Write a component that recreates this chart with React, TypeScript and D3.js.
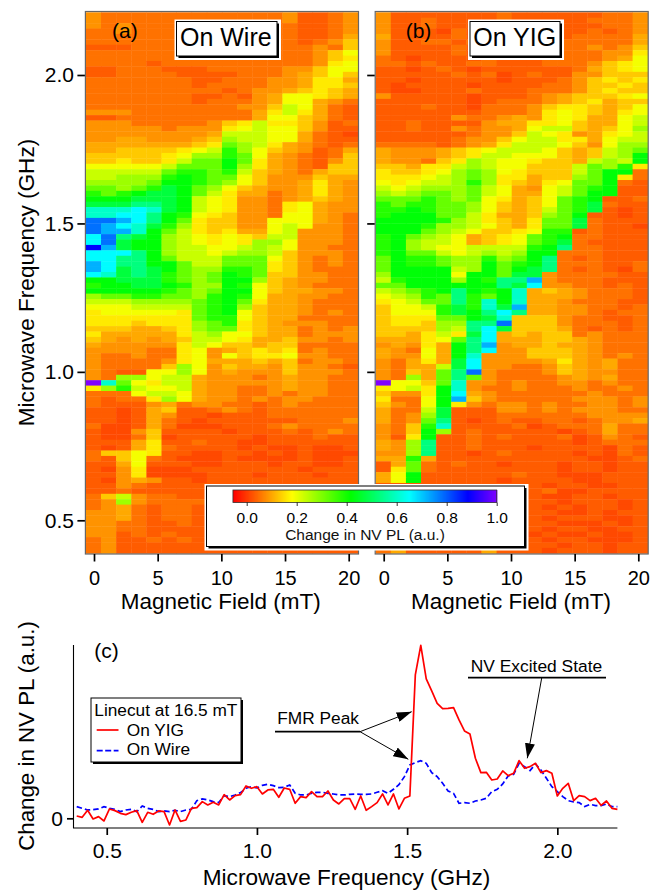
import React, { useEffect, useRef } from "react";
import * as d3 from "d3";

const FONT = "'Liberation Sans', Arial, sans-serif";

// one letter per heat map cell, looked up in levelValues
const levelKeys = "abcdefghijklmnopqrstu";
const levelValues = [0.012, 0.03, 0.05, 0.08, 0.1, 0.13, 0.16, 0.19, 0.23, 0.27, 0.32, 0.38, 0.42, 0.47, 0.53, 0.6, 0.65, 0.72, 0.78, 0.88, 1];

// rows run from 2.2 GHz (top) down to 0.4 GHz, columns from 0 to 20.2 mT
const onWireRows = [
  "dccccccccccccdbbcd", "dccccccccccccdbbcd", "dcdcccccccccccbbcd", "ccdcccccccccccbbcd", "ccccccccccccccbbce",
  "ccccccccccccccbcdf", "bbbccccccccccccdcf", "cccccccccccccccdfh", "cccccccccccccccdfg", "ccccbccccccccccdgh",
  "bbcccbbbcccccddfhh", "bbccccbbbbcccdefhf", "cccccccbbcccddegge", "cccccccbccccddeggf", "cccccccccbcddefgfe",
  "cccccccbbcbdehhgfe", "cccccccbcccdehhedc", "ccccccccccddfihecb", "dddccccccccegigecb", "bbcccccccccehhfecb",
  "dddcccccdfgiggfdbc", "dddddcdddghihhfdbb", "ddddddddeiiihhecba", "ddeedddefjiihhecbb", "eeeeeeefgkjigedcbc",
  "eeffffghiljhfedbce", "fffffghjjlkhedcbcf", "ffgffgikkmkgedcbdf", "hhhhhikkkmjgedcbff", "iiiiikllklifedceff",
  "iijjjlmlkkhfdddfee", "jjjjkmmlkjhfddeged", "kkjklnmkjhfeddeged", "lklmnnmkigeecdeged", "mmmnnnmihgddcdefed",
  "nnnoonmihgddcghedd", "pppqpnmihgddcghedd", "ppqqomlhgfddchhedc", "ssrqomkgffddhhhedc", "srqpnljgffddhihddc",
  "srrpmkigfgeehidddc", "qsonmjihghgfiidddc", "qsnmmjihghgjjhdddc", "trnmmjiihhijihddcc", "qqqomjiihijjifdddc",
  "qqoomkiiikkkhfdcdc", "rqoommkiikkkgfdcdc", "rqnonmkjjllkgfdccc", "qpnonlkjkmlkffddcc", "mmnnnlkjkmmjfeddcc",
  "lmmnnmljjmlhfedccc", "mmmmmlkjkmmhfeeddc", "jkkllkkjlmlheeddcc", "iiijjjjklmkgeedccc", "hhhiiiiklmjfeedccc",
  "ghhhhhgklmhfeedcdc", "gggggggkllhfeecccc", "gggfgggjklgfedddcc", "fffeefgjkkgfeecdcd", "geeeeegijhhfeecddd",
  "fededefiihgeefddcd", "edddddgihffeffcccc", "ddddccghdefgfgcdcc", "dccdccghdhfgghddcc", "dccccdgheeefefcddc",
  "dccccfjhdfeedfddcb", "dcbbhhjhdedddfdddc", "dcjjhiiedddcdeddcc", "upkhgiiedddddeddcc", "gjlihhieddccdeddcc",
  "ccchiiheddccdcddcc", "cbccgjheddcdcddccc", "cbbbdecddccbcdcccc", "bbabefbbcdcbcccccc", "bbabedbbabbbcccccc",
  "bbabecbabbbbbbcccd", "caabecaaabbbcdcccc", "baadfbbbbabbbcbcdc", "baacfabbbbbabbbcbb", "bbbegbbcbbaabbbbbb",
  "babegcbbbbabaabaab", "cffhgbbaabbababaaa", "cbfhcbaaabaaaabaab", "bbehbbbaabbbabbaab", "badgaaabbbbbbbabbb",
  "bbdgaaaabbbabbbabb", "badedbbabbbbbbbbbb", "bbdcbbbbbbbbbbbbbb", "bbcbbbbbbbbbbbbbbb", "cfidccbbbbbbbbbbbb",
  "cdjdccccbbbbbbbbbb", "cdecbccbbbbbbbbbbb", "ddecbccbcbbbbbbbbb", "ddecbccbbbbbbbbbbb", "ddccbbcbbbbbbbbbbb",
  "ddccbbbbbbbbbbbbbb", "ddbcbcbbbbbbbbbbbb", "cdbbcbcbbbbbbbbbbb", "cdbbbbbbbbbbbbbbbb", "cdbbbbbbbbbbbbbbbb",
];

const onYigRows = [
  "dbbbbbbbcbbbbbbccd", "dbbcbbbbcbbbbbcccd", "dbbcbbbbbbbcbbbccd", "dbbbacbbcbbbbbcbcd", "ebbbbcbbbbcbbcccce",
  "dbbccbcbbcbbccccce", "dbbbbcbbbcbbccdcdf", "dbbbbcbbcbcbcccddg", "cbabbbbcbbbccccdeh", "ccbcbbccbbbcccdfgh",
  "bbabcbabbbbbbcefgh", "bbbbbcbcabcbbddfff", "bbabbbbbabbbcdfgfg", "babbbbabbbbccdffgf", "baabbbcbbbcccdfgff",
  "dbbbbbabbbcdefffgh", "bbbbbbabcccdefgeff", "bbbcbbacccdfggfefh", "bbbbbbbcccdghgfegh", "bbbbbdccdedghgeehi",
  "bbcbbbbdeegghfeehi", "bbcbbdcddehiifefhj", "bbbbbbcddfihgdeghi", "bbbbbcddfhiiggehii", "ccccbcdegiiihfdhjj",
  "edddefghiiihfefijk", "edddefgiihhhfefijm", "eddcfgjihhgffeijim", "ffeggijihhfffikjlg", "gffghjkjhgfffikmmc",
  "ggghijkjggeffjkmgc", "hghiijljgfeghkkmcb", "ihijjjkihedhiklmbb", "jijkkjkiheehikmmbb", "kkklkjkhgefhklmbbc",
  "lkllkkjhfefhklncbb", "llmlkkjhfefiklnbab", "lmmmkkigeefjkmbbab", "mmmmljigfegkkncbbb", "mmmljjihfegkkncbba",
  "mmmkjihffghllbcbbb", "lmkjihefghklmccbbb", "lmjiihefghklncbbbb", "lmjihhiiiilmoccbbb", "lmkkihijijmmcccbbb",
  "kmllkjjljkmocbcbbb", "kmllkjjmklmocccbbc", "kmmmmijmkmnocbcbac", "jmmmmhmmknndccccbb", "ilmmmjmloordcccbbb",
  "kkmmmmmmonqddccbcb", "ijklmomlmpefedcccb", "hijlkolkmpeeedcccb", "ghikkolpmpeedcccbb", "fhhilnlpnreeddccbc",
  "fhhhlnmoqoeeddcbcc", "fgggkkmnpfffdccbbc", "fggfjjoosfffdcccbc", "ffffjioqnfffecbcbc", "ffegignqefeffcdccc",
  "eeeghkoqeeeffedccc", "dedgemordeefeedccc", "edchemoqddfffedccc", "eddhempdddfffedcdc", "dcegenqddddegedecc",
  "dceeinqddccdfedecc", "dcfekosdcccdfeddcc", "dcjekokdccccdedecc", "uhhfkpddcdccddcdcc", "ghigmpdccdcccdccdc",
  "fddgmqedccccccdccc", "gcchmrfdcccccdddcd", "fdchmgdcddcdccddcd", "eccinbbbddcdcdddcc", "ecdjnbbbccccccdddd",
  "ecdkobabcbbccbcdde", "dcflpbbbbcabcccecc", "dcfmjbcbbbbbabcecc", "dbgmbbcbcbbbcabdcb", "edjobbcbbbbbbabccc",
  "edjobbcbbbabbbbacb", "ddjobbabcbbbbabacb", "eelebbbbbbbbbbaabc", "bekcbcbbabbbabbabb", "bgkcbbbbbbbbabbabb",
  "ehmbbbbbbcbbaaabbb", "ehmbbbbbabbbbaabbb", "bbbbbbbbbbbabbaabb", "bbbbbbbbbbbcaabbbb", "bbbbbbbbbbbaabbabb",
  "bbbbbbbbbbbbabbbab", "bbbbbbbbbbbababbab", "bbbbbbbbbbbbaababb", "bbbbbbbbbbbabbbaab", "bbbbbbbbbbbbaaabab",
  "bbbbbbbbbbbabbaabb", "bbbbbbbbbbabaabaab", "bbbbbbbbbbbabbaaab", "bbbbbbbbbbbbabbabb", "cebbbbbebbbabbbabb",
];

// line cuts at 16.5 mT, in units of 1/519 of the On YIG peak
const onYigCut = [
  7, 3, 24, -2, 5, -8, 28, 23, 15, 11, 18, 23, -12, 18, 12, 22, 20, -20, 25, -9,
  -5, 30, 32, 50, 40, 48, 40, 71, 55, 68, 71, 97, 90, 95, 73, 85, 87, 63, 91, 87,
  45, 65, 62, 80, 65, 65, 82, 55, 43, 59, 59, 27, 67, 24, 35, 47, 73, 40, 73, 28,
  60, 67, 430, 519, 418, 382, 345, 329, 330, 332, 295, 262, 253, 180, 137, 138, 115, 118, 142, 128,
  135, 173, 150, 155, 165, 137, 143, 135, 67, 90, 105, 53, 68, 65, 53, 60, 39, 52, 30, 27,
];
const onWireCut = [
  35, 30, 25, 26, 28, 35, 30, 27, 20, 25, 27, 20, 37, 30, 27, 20, 22, 20, 24, 20,
  25, 27, 53, 58, 55, 50, 47, 68, 65, 70, 77, 90, 95, 91, 99, 102, 98, 92, 93, 100,
  75, 70, 70, 75, 78, 78, 75, 73, 70, 70, 72, 73, 72, 72, 73, 78, 83, 75, 87, 101,
  125, 160, 167, 173, 165, 137, 125, 105, 82, 75, 45, 47, 45, 52, 55, 60, 80, 87, 103, 127,
  132, 165, 155, 143, 163, 145, 120, 95, 80, 65, 53, 49, 47, 35, 42, 38, 38, 43, 35, 35,
];

const fieldTicks = [0, 5, 10, 15, 20];
const freqTicks = [0.5, 1.0, 1.5, 2.0];
const legendTicks = [0, 0.2, 0.4, 0.6, 0.8, 1.0];

const WIDTH = 664;
const HEIGHT = 891;

// hue runs linearly from red at the bottom of the bar to violet at 1.0
const hueScale = d3.scaleLinear().domain([-0.055, 1]).range([0, 270]);
const heatColor = (v: number) => d3.hsl(hueScale(v), 1, 0.5).formatHex();

type Sel = d3.Selection<any, unknown, null, undefined>;

const styleAxis = (g: Sel, size: number) => {
  g.select(".domain").remove();
  g.selectAll("line").attr("stroke", "#000").attr("stroke-width", 1.7);
  g.selectAll("text").attr("font-family", FONT).attr("font-size", size).attr("fill", "#000");
};

// white plate with a black frame that is heavier on the right and at the bottom
const drawPlate = (svg: Sel, x: number, y: number, w: number, h: number, pad = 2) => {
  svg.append("rect").attr("x", x - pad).attr("y", y - pad).attr("width", w + 2 * pad + 2).attr("height", h + 2 * pad + 2).attr("fill", "#fff");
  svg.append("rect").attr("x", x + 2).attr("y", y + 2).attr("width", w).attr("height", h).attr("fill", "#000");
  svg.append("rect").attr("x", x).attr("y", y).attr("width", w).attr("height", h).attr("fill", "#fff").attr("stroke", "#000").attr("stroke-width", 1);
};

const drawHeat = (svg: Sel, rows: string[], x0: number, x1: number, fieldZero: number, fieldTwenty: number, labelled: boolean) => {
  const col = d3.scaleBand<number>().domain(d3.range(18)).range([x0, x1]);
  const row = d3.scaleBand<number>().domain(d3.range(rows.length)).range([12.3, 553.3]);
  const fieldX = d3.scaleLinear().domain([0, 20]).range([fieldZero, fieldTwenty]);
  const freqY = d3.scaleLinear().domain([0.5, 2.0]).range([520.3, 75]);

  const cells = rows.flatMap((r, i) => r.split("").map((k, j) => ({ i, j, v: levelValues[levelKeys.indexOf(k)] })));
  svg.append("g").selectAll("rect").data(cells).enter().append("rect")
    .attr("x", (d) => col(d.j)!)
    .attr("y", (d) => row(d.i)!)
    .attr("width", col.bandwidth() + 0.4)
    .attr("height", row.bandwidth() + 0.4)
    .attr("fill", (d) => heatColor(d.v));

  svg.append("rect").attr("x", x0 - 0.5).attr("y", 11.5).attr("width", x1 - x0 + 1).attr("height", 542.5)
    .attr("fill", "none").attr("stroke", "#666").attr("stroke-width", 1.2);

  const xAxis = svg.append("g").attr("transform", "translate(0,554)")
    .call(d3.axisBottom(fieldX).tickValues(fieldTicks).tickSize(7.5).tickPadding(9).tickFormat(d3.format("d") as any));
  styleAxis(xAxis, 20);

  const yAxis = svg.append("g").attr("transform", `translate(${x0 - 1},0)`)
    .call(d3.axisLeft(freqY).tickValues(freqTicks).tickSize(7.5).tickPadding(3.5).tickFormat(labelled ? (d3.format(".1f") as any) : () => ""));
  styleAxis(yAxis, 21);
};

const drawLegend = (svg: Sel) => {
  drawPlate(svg, 206.5, 486, 318, 60.5);
  const v = d3.scaleLinear().domain([0, 1]).range([246.7, 496.7]);
  const steps = d3.range(-0.055, 1.0, 0.004);
  svg.append("g").selectAll("rect").data(steps).enter().append("rect")
    .attr("x", (d) => v(d))
    .attr("y", 490)
    .attr("width", v(0.004) - v(0) + 0.4)
    .attr("height", 12.5)
    .attr("fill", (d) => heatColor(d));
  svg.append("rect").attr("x", v(-0.055)).attr("y", 490).attr("width", v(1) - v(-0.055)).attr("height", 12.5)
    .attr("fill", "none").attr("stroke", "#333").attr("stroke-width", 0.8);
  const axis = svg.append("g").attr("transform", "translate(0,502.5)")
    .call(d3.axisBottom(v).tickValues(legendTicks).tickSize(3.5).tickPadding(6.3).tickFormat(d3.format(".1f") as any));
  styleAxis(axis, 15.5);
  axis.selectAll("line").attr("stroke-width", 0.8);
  svg.append("text").attr("x", 365).attr("y", 540).attr("text-anchor", "middle")
    .attr("font-family", FONT).attr("font-size", 15.5).attr("fill", "#111").text("Change in NV PL (a.u.)");
};

const drawCuts = (svg: Sel) => {
  const x = d3.scaleLinear().domain([0.4, 2.2]).range([76.7, 617.4]);
  const y = d3.scaleLinear().domain([0, 519]).range([818.3, 645.3]);
  const freq = d3.scaleLinear().domain([0, onYigCut.length - 1]).range([0.4, 2.2]);
  const line = d3.line<number>().x((_, i) => x(freq(i))).y((d) => y(d));

  svg.append("path").attr("d", line(onWireCut)!).attr("fill", "none").attr("stroke", "#0000ff")
    .attr("stroke-width", 1.7).attr("stroke-dasharray", "5.5,3");
  svg.append("path").attr("d", line(onYigCut)!).attr("fill", "none").attr("stroke", "#ff0000")
    .attr("stroke-width", 1.7).attr("stroke-linejoin", "round");

  const xAxis = svg.append("g").attr("transform", "translate(0,828)")
    .call(d3.axisBottom(x).tickValues(freqTicks).tickSize(7).tickPadding(8.5).tickFormat(d3.format(".1f") as any));
  styleAxis(xAxis, 21);
  const yAxis = svg.append("g").attr("transform", "translate(73.5,0)")
    .call(d3.axisLeft(y).tickValues([0]).tickSize(6.5).tickPadding(4).tickFormat(d3.format("d") as any));
  styleAxis(yAxis, 21);
  svg.append("path").attr("d", "M73.5,645V828H617.4").attr("fill", "none").attr("stroke", "#000").attr("stroke-width", 1.1);
};

const drawText = (svg: Sel, x: number, y: number, size: number, txt: string, anchor = "start", rotate = false) => {
  svg.append("text")
    .attr("transform", rotate ? `translate(${x},${y}) rotate(-90)` : `translate(${x},${y})`)
    .attr("text-anchor", anchor)
    .attr("font-family", FONT)
    .attr("font-size", size)
    .attr("fill", "#000")
    .text(txt);
};

const drawArrow = (svg: Sel, x1: number, y1: number, x2: number, y2: number) => {
  svg.append("line").attr("x1", x1).attr("y1", y1).attr("x2", x2).attr("y2", y2)
    .attr("stroke", "#000").attr("stroke-width", 1).attr("marker-end", "url(#head)");
};

export default function App() {
  const ref = useRef<SVGSVGElement>(null);

  useEffect(() => {
    const svg = d3.select(ref.current) as unknown as Sel;
    svg.selectAll("*").remove();

    svg.append("defs").append("marker").attr("id", "head")
      .attr("markerUnits", "userSpaceOnUse").attr("markerWidth", 15).attr("markerHeight", 10)
      .attr("refX", 15).attr("refY", 5).attr("orient", "auto")
      .append("path").attr("d", "M0,0L15,5L0,10Z").attr("fill", "#000");

    drawHeat(svg, onWireRows, 85.9, 358, 94, 348.7, true);
    drawHeat(svg, onYigRows, 375.7, 647.7, 383.7, 638.3, false);

    drawText(svg, 34.3, 282.5, 22.6, "Microwave Frequency (GHz)", "middle", true);
    drawText(svg, 220.8, 609.3, 22.5, "Magnetic Field (mT)", "middle");
    drawText(svg, 511, 609.3, 22.5, "Magnetic Field (mT)", "middle");
    drawText(svg, 112, 38, 21, "(a)");
    drawText(svg, 405.7, 38, 21, "(b)");

    drawPlate(svg, 176.5, 21.5, 100.5, 34.5);
    drawText(svg, 225.8, 45.7, 25, "On Wire", "middle");
    drawPlate(svg, 470, 21.5, 90, 34.5);
    drawText(svg, 514.7, 45.7, 25, "On YIG", "middle");

    drawLegend(svg);
    drawCuts(svg);

    drawText(svg, 34.3, 736, 22.3, "Change in NV PL (a.u.)", "middle", true);
    drawText(svg, 346.5, 885, 22.6, "Microwave Frequency (GHz)", "middle");
    drawText(svg, 94.3, 658, 21, "(c)");

    // linecut key
    drawPlate(svg, 91, 698, 150, 64, 0);
    drawText(svg, 94.3, 716, 17.3, "Linecut at 16.5 mT");
    drawText(svg, 126.7, 735.7, 17.3, "On YIG");
    drawText(svg, 126.7, 755, 17.3, "On Wire");
    svg.append("line").attr("x1", 96.7).attr("x2", 118.5).attr("y1", 730).attr("y2", 730).attr("stroke", "#ff0000").attr("stroke-width", 1.7);
    svg.append("line").attr("x1", 96.7).attr("x2", 118.5).attr("y1", 750.7).attr("y2", 750.7).attr("stroke", "#0000ff").attr("stroke-width", 1.7).attr("stroke-dasharray", "6,2.5");

    // annotations
    drawText(svg, 277.3, 724.3, 17.3, "FMR Peak");
    svg.append("line").attr("x1", 275).attr("x2", 360).attr("y1", 731.7).attr("y2", 731.7).attr("stroke", "#000").attr("stroke-width", 1.7);
    drawArrow(svg, 360, 731.7, 411.7, 711.7);
    drawArrow(svg, 360, 731.7, 408.3, 759.3);
    drawText(svg, 470.7, 671.7, 17.4, "NV Excited State");
    svg.append("line").attr("x1", 468).attr("x2", 606).attr("y1", 677.7).attr("y2", 677.7).attr("stroke", "#000").attr("stroke-width", 1.7);
    drawArrow(svg, 541.7, 678, 527.3, 758.3);
  }, []);

  return (
    <svg
      ref={ref}
      width={WIDTH}
      height={HEIGHT}
      viewBox={`0 0 ${WIDTH} ${HEIGHT}`}
      style={{ position: "absolute", left: 0, top: 0, background: "#fff" }}
    />
  );
}
